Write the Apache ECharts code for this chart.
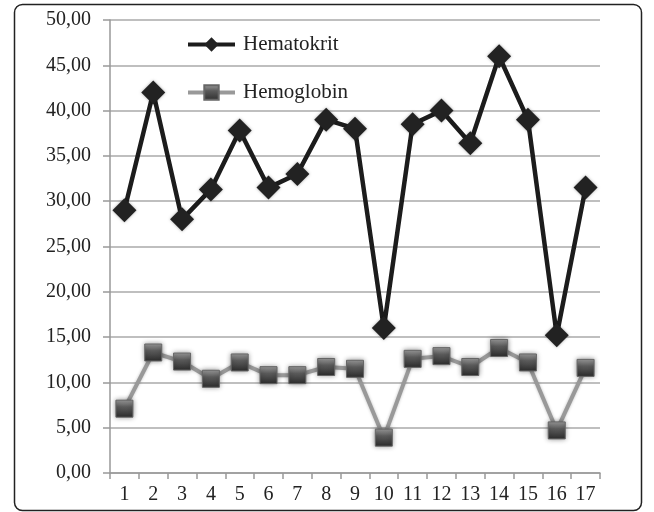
<!DOCTYPE html>
<html><head><meta charset="utf-8">
<script src="https://cdn.jsdelivr.net/npm/echarts@6/dist/echarts.min.js"></script>
<style>html,body{margin:0;padding:0;background:#fff}#c{width:654px;height:512px}</style>
</head><body><div id="c"></div>
<script>
const categories = ['1','2','3','4','5','6','7','8','9','10','11','12','13','14','15','16','17'];
const hematokrit = [29.0, 42.0, 28.0, 31.3, 37.8, 31.5, 33.0, 39.0, 38.0, 16.0, 38.5, 40.0, 36.4, 46.0, 39.0, 15.2, 31.5];
const hemoglobin = [7.1, 13.3, 12.3, 10.4, 12.2, 10.8, 10.8, 11.7, 11.5, 3.9, 12.6, 12.9, 11.7, 13.8, 12.2, 4.7, 11.6];
const yTicks = {min: 0, max: 50, interval: 5};

const chart = echarts.init(document.getElementById('c'));
const font = '"Liberation Serif", "DejaVu Serif", serif';
chart.setOption({
  animation: false,
  backgroundColor: '#fff',
  graphic: [{
    type: 'rect', left: 12, top: 2,
    shape: {width: 627, height: 506, r: 8},
    style: {fill: 'none', stroke: '#222', lineWidth: 1.5},
    silent: true, z: -1
  }],
  grid: {left: 110, right: 54, top: 20, bottom: 39, containLabel: false},
  legend: {
    orient: 'vertical', left: 181, top: 29,
    itemWidth: 47, itemHeight: 18, itemGap: 27,
    lineStyle: {width: 4},
    textStyle: {fontFamily: font, fontSize: 21, color: '#222', padding: [0, 0, 0, 3]},
    data: ['Hematokrit', 'Hemoglobin']
  },
  xAxis: {
    type: 'category', data: categories, boundaryGap: true,
    axisLine: {lineStyle: {color: '#999', width: 1.5}},
    axisTick: {show: true, length: 6, lineStyle: {color: '#999', width: 1.5}},
    axisLabel: {fontFamily: font, fontSize: 20, color: '#222', margin: 12}
  },
  yAxis: {
    type: 'value', min: yTicks.min, max: yTicks.max, interval: yTicks.interval,
    axisLine: {show: true, lineStyle: {color: '#999', width: 1.5}},
    axisTick: {show: true, length: 7, lineStyle: {color: '#999', width: 1.5}},
    splitLine: {lineStyle: {color: '#aaa', width: 1.5}},
    axisLabel: {fontFamily: font, fontSize: 20, color: '#222', margin: 19,
      formatter: v => v.toFixed(2).replace('.', ',')}
  },
  series: [
    {
      name: 'Hematokrit', type: 'line', data: hematokrit,
      symbol: 'diamond', symbolSize: [24, 24],
      lineStyle: {color: '#1c1c1c', width: 4.5},
      itemStyle: {color: '#222', shadowColor: 'rgba(0,0,0,0.35)', shadowBlur: 3},
      z: 3
    },
    {
      name: 'Hemoglobin', type: 'line', data: hemoglobin,
      symbol: 'rect', symbolSize: [17, 17],
      lineStyle: {color: '#999', width: 4, shadowColor: 'rgba(0,0,0,0.25)', shadowBlur: 3},
      itemStyle: {
        color: new echarts.graphic.LinearGradient(0, 0, 0, 1, [
          {offset: 0, color: '#a0a0a0'}, {offset: 0.4, color: '#5a5a5a'}, {offset: 1, color: '#2e2e2e'}
        ]),
        borderColor: '#666', borderWidth: 1,
        shadowColor: 'rgba(0,0,0,0.45)', shadowBlur: 5
      },
      z: 2
    }
  ]
});
</script></body></html>
